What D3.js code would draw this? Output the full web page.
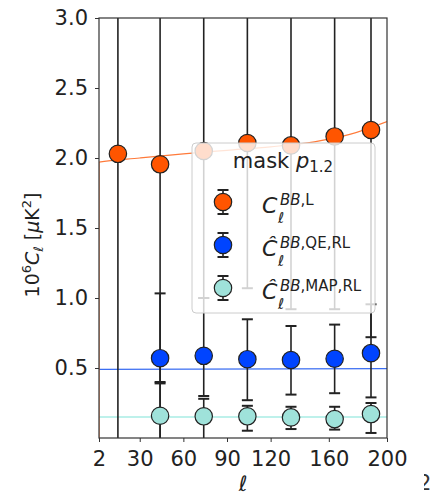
<!DOCTYPE html>
<html lang="en">
<head>
<meta charset="UTF-8">
<title>BB power spectrum</title>
<style>
  html, body { margin: 0; padding: 0; background: #fff; overflow: hidden; }
  text { font-family: "DejaVu Sans", sans-serif; }
</style>
</head>
<body>
<script src="https://cdn.jsdelivr.net/npm/d3@7"></script>
<script>
// multipole bin centres
const ellBins = [15, 44, 74, 104, 134, 164, 189];
const clLens = [2.03, 1.955, 2.05, 2.107, 2.09, 2.154, 2.20];
const clLensLo = [-0.5, -0.5, 1.0, 1.07, 0.92, 0.92, 0.72];
const clLensHi = [4, 4, 4, 4, 4, 4, 4];

// reconstructed spectra (no value for the first bin)
const ellRec = [44, 74, 104, 134, 164, 189];
const clQE = [0.57, 0.587, 0.563, 0.557, 0.566, 0.606];
const clQELo = [0.40, 0.30, 0.27, 0.31, 0.32, 0.29];
const clQEHi = [1.033, 1.0, 0.848, 0.80, 0.81, 0.955];
const clMAP = [0.159, 0.155, 0.155, 0.147, 0.135, 0.171];
const clMAPLo = [-0.1, -0.1, 0.052, 0.064, 0.06, 0.036];
const clMAPHi = [0.39, 0.28, 0.23, 0.223, 0.223, 0.25];

// theory / residual curves
const theoryEll = [2, 2, 30, 60, 90, 120, 150, 175, 200];
const theoryLens = [0, 1.97, 2.0, 2.03, 2.055, 2.08, 2.115, 2.17, 2.26];
const flatEll = [2, 200];
const theoryQE = [0.49, 0.495];
const theoryMAP = [0.15, 0.15];

const xTicks = [2, 30, 60, 90, 120, 160, 200];
const yTicks = [0.5, 1.0, 1.5, 2.0, 2.5, 3.0];

const colOrange = '#ff5500', colBlue = '#0044ff', colCyan = '#9fe2da';

const W = 433, H = 497;
const mLeft = 99, mRight = 387, mTop = 18, mBottom = 438;

const svg = d3.select('body').append('svg')
  .attr('width', W).attr('height', H);

const x = d3.scaleLinear().domain([2, 200]).range([mLeft, mRight]);
const y = d3.scaleLinear().domain([0, 3]).range([mBottom, mTop]);

svg.append('clipPath').attr('id', 'plotclip')
  .append('rect').attr('x', mLeft).attr('y', mTop)
  .attr('width', mRight - mLeft).attr('height', mBottom - mTop);

const plot = svg.append('g').attr('clip-path', 'url(#plotclip)');

// theory lines
const line = d3.line().x(d => x(d[0])).y(d => y(d[1]));
plot.append('path').datum(flatEll.map((l, i) => [l, theoryMAP[i]]))
  .attr('d', line).attr('fill', 'none').attr('stroke', '#a8ece4').attr('stroke-width', 1.3);
plot.append('path').datum(flatEll.map((l, i) => [l, theoryQE[i]]))
  .attr('d', line).attr('fill', 'none').attr('stroke', '#3a6df2').attr('stroke-width', 1.3);
plot.append('path').datum(theoryEll.map((l, i) => [l, theoryLens[i]]))
  .attr('d', d3.line().x(d => x(d[0])).y(d => y(d[1])).curve(d3.curveMonotoneX))
  .attr('fill', 'none').attr('stroke', '#ff7a3a').attr('stroke-width', 1.2);

function drawSeries(ell, val, lo, hi, color) {
  const data = ell.map((l, i) => ({ l: l, v: val[i], lo: lo[i], hi: hi[i] }));
  const g = plot.append('g');
  g.selectAll('line.bar').data(data).join('line')
    .attr('class', 'bar')
    .attr('x1', d => x(d.l)).attr('x2', d => x(d.l))
    .attr('y1', d => y(d.lo)).attr('y2', d => y(d.hi))
    .attr('stroke', '#222').attr('stroke-width', 1.6);
  ['lo', 'hi'].forEach(k => {
    g.selectAll('line.cap' + k).data(data).join('line')
      .attr('class', 'cap' + k)
      .attr('x1', d => x(d.l) - 5.5).attr('x2', d => x(d.l) + 5.5)
      .attr('y1', d => y(d[k])).attr('y2', d => y(d[k]))
      .attr('stroke', '#222').attr('stroke-width', 2);
  });
  g.selectAll('circle').data(data).join('circle')
    .attr('cx', d => x(d.l)).attr('cy', d => y(d.v)).attr('r', 8.7)
    .attr('fill', color).attr('stroke', '#222').attr('stroke-width', 1.2);
}

drawSeries(ellBins, clLens, clLensLo, clLensHi, colOrange);
drawSeries(ellRec, clQE, clQELo, clQEHi, colBlue);
drawSeries(ellRec, clMAP, clMAPLo, clMAPHi, colCyan);

// axes
const xAxis = svg.append('g').attr('transform', `translate(0,${mBottom})`)
  .call(d3.axisBottom(x).tickValues(xTicks).tickFormat(d3.format('d')).tickSize(4).tickPadding(4));
const yAxis = svg.append('g').attr('transform', `translate(${mLeft},0)`)
  .call(d3.axisLeft(y).tickValues(yTicks).tickFormat(d3.format('.1f')).tickSize(4).tickPadding(7));
[xAxis, yAxis].forEach(a => {
  a.select('.domain').remove();
  a.selectAll('line').attr('stroke', '#333').attr('stroke-width', 1);
  a.selectAll('text').attr('font-size', 21).attr('fill', '#222')
    .attr('font-family', '"DejaVu Sans", sans-serif');
});
xAxis.selectAll('text').attr('dy', '0.71em').attr('y', 13);

svg.append('rect').attr('x', mLeft).attr('y', mTop)
  .attr('width', mRight - mLeft).attr('height', mBottom - mTop)
  .attr('fill', 'none').attr('stroke', '#333').attr('stroke-width', 1.2);

// legend
const lg = svg.append('g');
lg.append('rect').attr('x', 192).attr('y', 143).attr('width', 183).attr('height', 170)
  .attr('rx', 4).attr('fill', 'rgba(255,255,255,0.8)').attr('stroke', '#cccccc').attr('stroke-width', 1);

const title = lg.append('text').attr('x', 283).attr('y', 168).attr('text-anchor', 'middle')
  .attr('font-size', 21).attr('fill', '#222');
title.append('tspan').text('mask ');
title.append('tspan').attr('font-style', 'italic').text('p');
title.append('tspan').attr('font-size', 15).attr('dy', 4).text('1.2');

const legendItems = [
  { color: colOrange, hat: false, sup: 'L' },
  { color: colBlue, hat: true, sup: 'QE,RL' },
  { color: colCyan, hat: true, sup: 'MAP,RL' }
];
legendItems.forEach((it, i) => {
  const cy = 202 + i * 43, cx = 223;
  lg.append('line').attr('x1', cx).attr('x2', cx).attr('y1', cy - 12).attr('y2', cy + 12)
    .attr('stroke', '#222').attr('stroke-width', 1.6);
  [-12, 12].forEach(o => lg.append('line').attr('x1', cx - 5.5).attr('x2', cx + 5.5)
    .attr('y1', cy + o).attr('y2', cy + o).attr('stroke', '#222').attr('stroke-width', 2));
  lg.append('circle').attr('cx', cx).attr('cy', cy).attr('r', 8.7)
    .attr('fill', it.color).attr('stroke', '#222').attr('stroke-width', 1.2);
  lg.append('text').attr('x', 262).attr('y', cy + 11).attr('font-size', 22)
    .attr('font-style', 'italic').attr('fill', '#222').text(it.hat ? 'Ĉ' : 'C');
  const sup = lg.append('text').attr('x', 280).attr('y', cy + 3).attr('font-size', 15).attr('fill', '#222');
  sup.append('tspan').attr('font-style', 'italic').text('BB');
  sup.append('tspan').text(',' + it.sup);
  lg.append('text').attr('x', 278).attr('y', cy + 21).attr('font-size', 15)
    .attr('font-style', 'italic').attr('fill', '#222').text('ℓ');
});

// axis labels
const yl = svg.append('text').attr('transform', 'translate(39,245) rotate(-90)')
  .attr('text-anchor', 'middle').attr('font-size', 19).attr('fill', '#222');
yl.append('tspan').text('10');
yl.append('tspan').attr('font-size', 13).attr('dy', -8).text('6');
yl.append('tspan').attr('font-style', 'italic').attr('dy', 8).text('C');
yl.append('tspan').attr('font-style', 'italic').attr('font-size', 13).attr('dy', 4).text('ℓ');
yl.append('tspan').attr('dy', -4).text(' [');
yl.append('tspan').attr('font-style', 'italic').text('μ');
yl.append('tspan').text('K');
yl.append('tspan').attr('font-size', 13).attr('dy', -8).text('2');
yl.append('tspan').attr('dy', 8).text(']');

svg.append('text').attr('x', (mLeft + mRight) / 2).attr('y', 491).attr('text-anchor', 'middle')
  .attr('font-size', 21).attr('font-style', 'italic').attr('fill', '#222').text('ℓ');

// sliver of the neighbouring panel's tick label
svg.append('clipPath').attr('id', 'edgeclip').append('rect')
  .attr('x', 424).attr('y', 460).attr('width', 10).attr('height', 37);
svg.append('text').attr('clip-path', 'url(#edgeclip)').attr('x', 418).attr('y', 490)
  .attr('font-size', 21).attr('fill', '#333').text('2');
</script>
</body>
</html>
